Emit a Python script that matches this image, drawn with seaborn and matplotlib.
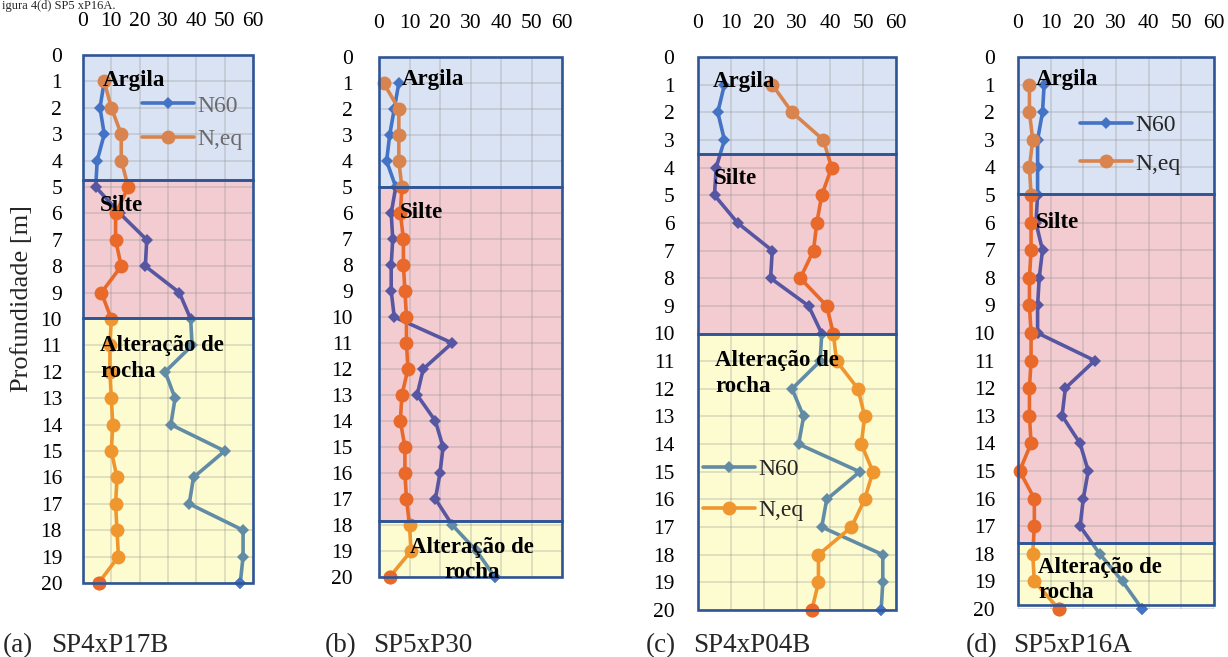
import matplotlib
matplotlib.use("Agg")
import matplotlib.pyplot as plt
from matplotlib.patches import Rectangle
from matplotlib.lines import Line2D
import seaborn as sns
import pandas as pd

sns.set_theme(style="white")
plt.rcParams["font.family"] = ["Liberation Serif", "DejaVu Serif"]

# ---------------------------------------------------------------- data
depth = list(range(1, 21))

n60_a = [7.5, 6, 7.5, 5, 4.5, 13, 22.5, 22, 34, 38, 38.5, 29, 32.5, 31, 50, 39, 37.5, 56.5, 56.5, 55.5]
neq_a = [7.5, 10, 13.5, 13.5, 16, 11.5, 11.5, 13.5, 6.5, 10, 9.5, 9.5, 10, 10.5, 10, 12, 11.5, 12, 12.5, 5.5]

n60_b = [6.5, 5, 3.5, 2.5, 5.5, 4, 4.5, 4, 4, 5, 24, 14.5, 12.5, 18.5, 21, 20, 18.5, 24, 32, 38]
neq_b = [1.5, 6.5, 6.5, 6.5, 7.5, 7, 8, 8, 8.5, 9, 9, 9.5, 7.5, 7, 8.5, 8.5, 9, 10, 10.5, 3.5]

n60_c = [8, 6, 8, 5.5, 5, 12, 22.5, 22, 33.5, 37.5, 37, 28.5, 32, 30.5, 49, 39, 37.5, 56, 56, 55.5]
neq_c = [22.5, 28.5, 38, 40.5, 37.5, 36, 35, 31, 39, 41, 42, 48.5, 50.5, 49.5, 53, 50.5, 46.5, 36.5, 36.5, 34.5]

n60_d = [8, 7.5, 6, 6, 6, 5.5, 7.5, 6.5, 6, 6, 23.5, 14.5, 13.5, 19, 21.5, 20, 19, 25, 32, 38]
neq_d = [3.5, 3.5, 4.5, 3.5, 4, 4, 4, 3.5, 3.5, 4, 4, 3.5, 3.5, 4, 0.5, 5, 5, 4.5, 5, 12.5]

# layer boundaries (depth, m)
layers_a = [0, 4.75, 9.95, 20]
layers_b = [0, 5.0, 17.85, 20]
layers_c = [0, 3.5, 10.0, 20]
layers_d = [0, 4.97, 17.6, 19.85]

layer_names = ["Argila", "Silte", "Alteração de\nrocha"]
series_names = ["N60", "N,eq"]
captions = ["(a)", "(b)", "(c)", "(d)"]
boreholes = ["SP4xP17B", "SP5xP30", "SP4xP04B", "SP5xP16A"]
x_ticks = [0, 10, 20, 30, 40, 50, 60]
y_ticks = list(range(0, 21))

# ---------------------------------------------------------------- styles
W, H = 1228, 657
fill_colors = ["#DAE3F3", "#F2CCD0", "#FDFBD0"]
n60_colors = ["#4472C4", "#5656A2", "#628CA6"]
neq_colors = ["#D9844E", "#E8692A", "#F0962E"]
border = "#2F5597"

panels = [
    dict(n60=n60_a, neq=neq_a, layers=layers_a, box=(83, 55, 253, 583), ypad=15,
         labels=[(7, 0.95), (6, 5.7), (6, 11.5)], center=False,
         legend=dict(layer=0, anchor=(0.347, 0.924), spacing=0.5, color="#6A6A6A")),
    dict(n60=n60_b, neq=neq_b, layers=layers_b, box=(379, 57, 562, 577), ypad=19,
         labels=[(7.4, 0.88), (6.9, 6.0), (30.5, 19.35)], center=True, legend=None),
    dict(n60=n60_c, neq=neq_c, layers=layers_c, box=(698, 57, 896, 610), ypad=17,
         labels=[(4.5, 0.87), (4.8, 4.4), (5.2, 11.45)], center=False,
         legend=dict(layer=2, anchor=(0.025, 0.274), spacing=0.82, color="#262626")),
    dict(n60=n60_d, neq=neq_d, layers=layers_d, box=(1018, 57, 1214, 609), ypad=16.5,
         labels=[(5.5, 0.83), (5.5, 6.0), (6.1, 18.95)], center=False,
         legend=dict(layer=0, anchor=(0.316, 0.896), spacing=0.73, color="#262626")),
]

fig = plt.figure(figsize=(W / 100, H / 100), dpi=100)


def draw_series(ax, values, color, marker, ms, clip):
    df = pd.DataFrame({"valor": values, "prof": depth})
    n = len(ax.lines)
    sns.lineplot(data=df, x="valor", y="prof", orient="y", sort=False, estimator=None,
                 color=color, marker=marker, markersize=ms, linewidth=2.6,
                 markeredgewidth=0, ax=ax, legend=False)
    for ln in ax.lines[n:]:
        ln.set_clip_box(None)
        ln.set_clip_path(clip)
        ln.set_zorder(3)


for i, p in enumerate(panels):
    l, t, r, b = p["box"]
    ax = fig.add_axes([l / W, 1 - b / H, (r - l) / W, (b - t) / H])
    bounds = p["layers"]

    for k in range(3):
        top, bot = bounds[k], bounds[k + 1]
        ax.add_patch(Rectangle((0, top), 60, bot - top, facecolor=fill_colors[k],
                               edgecolor="none", zorder=0.2))
        ax.add_patch(Rectangle((0, top), 60, bot - top, facecolor="none",
                               edgecolor=border, linewidth=1.9, zorder=5, clip_on=False))
        ctop = top - 0.6 if k == 0 else top
        cbot = 20.6 if k == 2 else bot
        clip = Rectangle((-5, ctop), 70, cbot - ctop, transform=ax.transData)
        draw_series(ax, p["n60"], n60_colors[k], "D", 6, clip)
        clip = Rectangle((-5, ctop), 70, cbot - ctop, transform=ax.transData)
        draw_series(ax, p["neq"], neq_colors[k], "o", 10, clip)

        lx, ly = p["labels"][k]
        ax.text(lx, ly, layer_names[k], fontsize=16.5, fontweight="bold", color="black",
                ha="center" if (p["center"] and k == 2) else "left", va="center",
                multialignment="center" if (p["center"] and k == 2) else "left",
                linespacing=1.3, zorder=6)

    # markers at the deepest reading
    ax.plot(p["n60"][-1], depth[-1], marker="D", markersize=6, color=n60_colors[0],
            markeredgewidth=0, linestyle="none", clip_on=False, zorder=4)
    ax.plot(p["neq"][-1], depth[-1], marker="o", markersize=10, color=neq_colors[1],
            markeredgewidth=0, linestyle="none", clip_on=False, zorder=4)

    ax.set_xlim(0, 60)
    ax.set_ylim(20, 0)
    ax.set_xticks(x_ticks)
    ax.set_yticks(y_ticks)
    ax.xaxis.tick_top()
    ax.tick_params(axis="x", length=0, pad=17, labelsize=15.5, colors="black")
    ax.tick_params(axis="y", length=0, pad=p["ypad"], labelsize=15.5, colors="black")
    ax.set_xlabel("")
    ax.set_ylabel("")
    ax.set_axisbelow(True)
    ax.grid(True, color="#8C8C8C", alpha=0.28, linewidth=1.3)
    for s in ax.spines.values():
        s.set_visible(False)
    ax.set_facecolor("none")

    lg = p["legend"]
    if lg is not None:
        k = lg["layer"]
        handles = [
            Line2D([], [], color=n60_colors[k], marker="D", markersize=6,
                   markeredgewidth=0, linewidth=2.6),
            Line2D([], [], color=neq_colors[k], marker="o", markersize=10,
                   markeredgewidth=0, linewidth=2.6),
        ]
        leg = ax.legend(handles, series_names, loc="upper left", bbox_to_anchor=lg["anchor"],
                        frameon=False, handlelength=2.2, handletextpad=0.15,
                        labelspacing=lg["spacing"], borderpad=0, borderaxespad=0,
                        fontsize=17, labelcolor=lg["color"])
        leg.set_zorder(7)

    cap_x = [3, 325, 646, 966][i]
    name_x = [51, 373, 693, 1013][i]
    fig.text(cap_x / W, 1 - 652 / H, captions[i], fontsize=19.5, va="baseline", ha="left")
    fig.text(name_x / W, 1 - 652 / H, boreholes[i], fontsize=19.5, va="baseline", ha="left")

fig.text(22 / W, 1 - 298 / H, "Profundidade [m]", fontsize=19, rotation=90,
         ha="center", va="center")
fig.text(2 / W, 1 - 9 / H, "igura 4(d) SP5 xP16A.", fontsize=9, ha="left", va="baseline")

fig.savefig("out.png", dpi=100)
